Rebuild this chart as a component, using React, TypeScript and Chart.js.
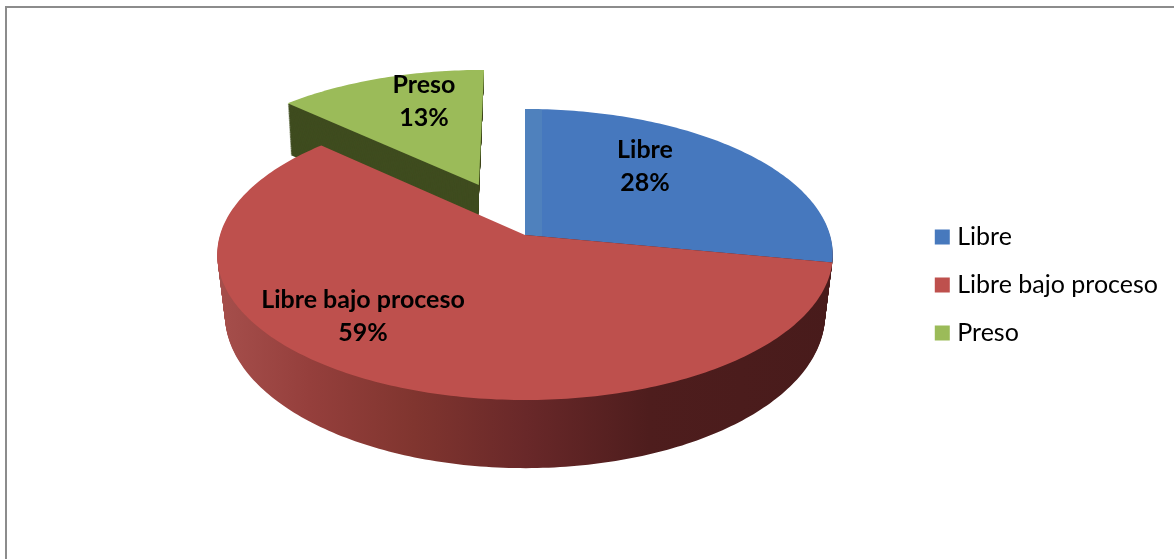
import React, { useEffect, useRef } from "react";
import { Chart, registerables } from "chart.js";

Chart.register(...registerables);

const categories = ["Libre", "Libre bajo proceso", "Preso"];
const values = [28, 59, 13];
const explode = [0, 0, 0.4];

const topColors = ["#4779BD", "#BE504D", "#9BBB59"];
const NOMINAL_RADIUS = 100;
const VIEW = { cx: 525, cy: 235, a: 142.9, b: 305, k: 0.134, depth: 59, shrink: 0.025 };
const LABEL_OFFSETS = [[120, -69], [-162, 81], [-101, -134]];
const FONT_FAMILY = "Lato, 'Open Sans', sans-serif";

function project(u: number, v: number, t: number, pivot: number) {
  const d = 1 - VIEW.k * v;
  const x = VIEW.cx + (VIEW.b * u) / d;
  return {
    x: x + (pivot - x) * VIEW.shrink * t,
    y: VIEW.cy + (VIEW.a * v) / d + (t * VIEW.depth) / d,
  };
}

function slicePath(ctx: CanvasRenderingContext2D, start: number, end: number, ex: number, t: number) {
  const mid = (start + end) / 2;
  const ox = Math.cos(mid) * ex;
  const oy = Math.sin(mid) * ex;
  // exploded slices narrow towards their own middle, the others towards the pie's centre
  const pivot = ex > 0 ? project(ox + Math.cos(mid) * 0.7, oy + Math.sin(mid) * 0.7, 0, 0).x : VIEW.cx;
  const n = Math.max(8, Math.ceil((end - start) * 60));
  ctx.beginPath();
  const apex = project(ox, oy, t, pivot);
  ctx.moveTo(apex.x, apex.y);
  for (let i = 0; i <= n; i++) {
    const ang = start + ((end - start) * i) / n;
    const p = project(ox + Math.cos(ang), oy + Math.sin(ang), t, pivot);
    ctx.lineTo(p.x, p.y);
  }
  ctx.closePath();
}

function hGrad(ctx: CanvasRenderingContext2D, x0: number, x1: number, stops: [number, string][]) {
  const g = ctx.createLinearGradient(x0, 0, x1, 0);
  stops.forEach(([s, c]) => g.addColorStop(s, c));
  return g;
}

const pie3d = {
  id: "pie3d",
  beforeDraw(chart: any) {
    const { ctx, width, height } = chart;
    ctx.save();
    ctx.fillStyle = "#ffffff";
    ctx.fillRect(0, 0, width, height);
    ctx.strokeStyle = "#8c8c8c";
    ctx.lineWidth = 2;
    ctx.strokeRect(6, 7, width + 20, height + 20);
    ctx.restore();
  },
  beforeDatasetDraw() {
    return false;
  },
  afterDatasetsDraw(chart: any) {
    const { ctx } = chart;
    const arcs = chart.getDatasetMeta(0).data;
    const wallFills = [
      "#4a1c1c",
      hGrad(ctx, 217, 834, [
        [0, "#A64F4C"],
        [0.15, "#953F3C"],
        [0.32, "#80352F"],
        [0.5, "#692829"],
        [0.7, "#4E1D1D"],
        [1, "#481B1B"],
      ]),
      "#3F4C1F",
    ];
    const topFills = [
      hGrad(ctx, 525, 834, [
        [0, "#4F81BD"],
        [0.055, "#4F81BD"],
        [0.056, "#4678BE"],
        [1, "#4678BE"],
      ]),
      topColors[1],
      topColors[2],
    ];
    const order = [2, 0, 1];
    ctx.save();
    order.forEach((i) => {
      const arc = arcs[i];
      const ex = (arc.options.offset || 0) / arc.outerRadius;
      ctx.fillStyle = wallFills[i];
      for (let s = VIEW.depth; s > 0; s -= 1) {
        slicePath(ctx, arc.startAngle, arc.endAngle, ex, s / VIEW.depth);
        ctx.fill();
      }
      slicePath(ctx, arc.startAngle, arc.endAngle, ex, 0);
      ctx.fillStyle = topFills[i];
      ctx.fill();
    });
    ctx.fillStyle = "#000000";
    ctx.textAlign = "center";
    ctx.textBaseline = "middle";
    ctx.font = `bold 25px ${FONT_FAMILY}`;
    categories.forEach((name, i) => {
      const x = VIEW.cx + LABEL_OFFSETS[i][0];
      const y = VIEW.cy + LABEL_OFFSETS[i][1];
      ctx.fillText(name, x, y - 16.5);
      ctx.fillText(`${values[i]}%`, x, y + 16.5);
    });
    ctx.restore();
  },
};

export default function App() {
  const ref = useRef<HTMLCanvasElement>(null);
  useEffect(() => {
    const chart = new Chart(ref.current!, {
      type: "pie",
      data: {
        labels: categories,
        datasets: [
          {
            data: values,
            backgroundColor: topColors,
            borderWidth: 0,
            offset: (c: any) => explode[c.dataIndex] * NOMINAL_RADIUS,
          } as any,
        ],
      },
      options: {
        animation: false,
        responsive: false,
        radius: NOMINAL_RADIUS,
        layout: { padding: { right: 6, top: 11, bottom: 0 } },
        plugins: {
          tooltip: { enabled: false },
          legend: {
            position: "right",
            labels: {
              usePointStyle: true,
              pointStyle: "rect",
              boxWidth: 5,
              boxHeight: 15,
              padding: 23,
              color: "#000000",
              font: { family: FONT_FAMILY, size: 25 },
            },
          },
        },
      } as any,
      plugins: [pie3d],
    });
    return () => chart.destroy();
  }, []);
  return (
    <canvas
      ref={ref}
      width={1174}
      height={559}
      style={{ position: "absolute", left: 0, top: 0, display: "block", width: 1174, height: 559 }}
    />
  );
}
